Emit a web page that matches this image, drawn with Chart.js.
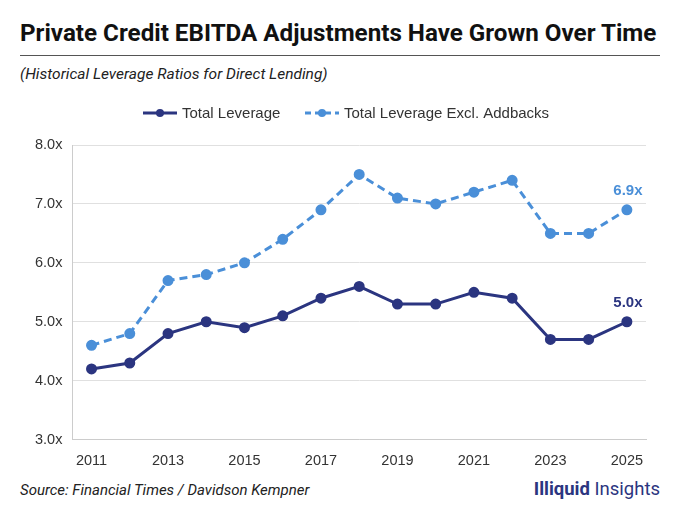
<!DOCTYPE html>
<html>
<head>
<meta charset="utf-8">
<script src="https://cdn.jsdelivr.net/npm/chart.js@4.4.1/dist/chart.umd.min.js"></script>
<style>
  body { margin: 0; background: #fff; width: 680px; height: 510px; overflow: hidden; font-family: "Liberation Sans", Arial, sans-serif; }
  #title { position: absolute; left: 20px; top: 19px; font-family: Roboto, sans-serif; font-weight: bold; font-size: 24.2px; color: #111; white-space: nowrap; }
  #rule { position: absolute; left: 20px; top: 55px; width: 640px; height: 1px; background: #555; }
  #subtitle { position: absolute; left: 20px; top: 65px; font-style: italic; font-size: 15.5px; color: #222; font-family: Roboto, sans-serif; }
  #source { position: absolute; left: 20px; top: 481px; font-style: italic; font-size: 15px; color: #222; font-family: Roboto, sans-serif; }
  #brand { position: absolute; right: 20px; top: 478px; font-size: 18.5px; color: #2b3580; font-family: Roboto, sans-serif; }
  #brand b { font-weight: bold; }
  #wrap { position: absolute; left: 0; top: 95px; width: 680px; height: 380px; }
</style>
</head>
<body>
<div id="title">Private Credit EBITDA Adjustments Have Grown Over Time</div>
<div id="rule"></div>
<div id="subtitle">(Historical Leverage Ratios for Direct Lending)</div>
<div id="wrap"><canvas id="chart"></canvas></div>
<div id="source">Source: Financial Times / Davidson Kempner</div>
<div id="brand"><b>Illiquid</b> Insights</div>
<script>
const years = ['2011', '2012', '2013', '2014', '2015', '2016', '2017', '2018', '2019', '2020', '2021', '2022', '2023', '2024', '2025'];
const totalLeverage = [4.2, 4.3, 4.8, 5.0, 4.9, 5.1, 5.4, 5.6, 5.3, 5.3, 5.5, 5.4, 4.7, 4.7, 5.0];
const exclAddbacks = [4.6, 4.8, 5.7, 5.8, 6.0, 6.4, 6.9, 7.5, 7.1, 7.0, 7.2, 7.4, 6.5, 6.5, 6.9];
const seriesNames = ['Total Leverage', 'Total Leverage Excl. Addbacks'];

const navy = '#2b3580';
const lightBlue = '#4a8fd8';

// custom legend: line + dot marker, like the original
const legendPlugin = {
    id: 'lineLegend',
    afterDraw(chart) {
        const ctx = chart.ctx;
        const y = 18;
        const items = [
            { x: 143, color: navy, dash: [], text: seriesNames[0] },
            { x: 305, color: lightBlue, dash: [6, 4], text: seriesNames[1] }
        ];
        ctx.save();
        items.forEach(it => {
            ctx.strokeStyle = it.color;
            ctx.lineWidth = 3;
            ctx.setLineDash(it.dash);
            ctx.beginPath();
            ctx.moveTo(it.x, y);
            ctx.lineTo(it.x + 34, y);
            ctx.stroke();
            ctx.setLineDash([]);
            ctx.fillStyle = it.color;
            ctx.beginPath();
            ctx.arc(it.x + 17, y, 4, 0, Math.PI * 2);
            ctx.fill();
            ctx.fillStyle = '#333';
            ctx.font = '15px "Liberation Sans", Arial, sans-serif';
            ctx.textBaseline = 'middle';
            ctx.fillText(it.text, it.x + 39, y + 1);
        });
        ctx.restore();
    }
};

// value label over the last point of each series
const endLabels = {
    id: 'endLabels',
    afterDatasetsDraw(chart) {
        const ctx = chart.ctx;
        ctx.save();
        chart.data.datasets.forEach((ds, i) => {
            const meta = chart.getDatasetMeta(i);
            const pt = meta.data[meta.data.length - 1];
            const v = ds.data[ds.data.length - 1];
            ctx.fillStyle = ds.borderColor;
            ctx.font = 'bold 15px "Liberation Sans", Arial, sans-serif';
            ctx.textAlign = 'center';
            ctx.textBaseline = 'middle';
            ctx.fillText(v.toFixed(1) + 'x', pt.x + 1, pt.y - 19);
        });
        ctx.restore();
    }
};

new Chart(document.getElementById('chart').getContext('2d'), {
    type: 'line',
    data: {
        labels: years,
        datasets: [
            {
                label: seriesNames[0],
                data: totalLeverage,
                borderColor: navy,
                backgroundColor: navy,
                borderWidth: 3,
                pointRadius: 4,
                pointHoverRadius: 4,
                tension: 0
            },
            {
                label: seriesNames[1],
                data: exclAddbacks,
                borderColor: lightBlue,
                backgroundColor: lightBlue,
                borderWidth: 3,
                borderDash: [8, 5],
                pointRadius: 4,
                pointHoverRadius: 4,
                tension: 0
            }
        ]
    },
    options: {
        responsive: true,
        maintainAspectRatio: false,
        animation: false,
        layout: { padding: { top: 50, right: 34, left: 25, bottom: 0 } },
        plugins: {
            legend: { display: false },
            tooltip: { enabled: false }
        },
        scales: {
            x: {
                offset: true,
                grid: { display: false },
                border: { color: '#ccc' },
                ticks: {
                    autoSkip: false,
                    maxRotation: 0,
                    color: '#333',
                    font: { size: 14.5, family: '"Liberation Sans", Arial, sans-serif' },
                    padding: 5,
                    callback: function (val, index) {
                        return index % 2 === 0 ? this.getLabelForValue(val) : '';
                    }
                }
            },
            y: {
                min: 3,
                max: 8,
                ticks: {
                    stepSize: 1,
                    color: '#333',
                    padding: 10,
                    font: { size: 14.5, family: '"Liberation Sans", Arial, sans-serif' },
                    callback: v => v.toFixed(1) + 'x'
                },
                grid: { color: '#e0e0e0', drawTicks: false },
                border: { color: '#ccc' }
            }
        }
    },
    plugins: [legendPlugin, endLabels]
});
</script>
</body>
</html>
